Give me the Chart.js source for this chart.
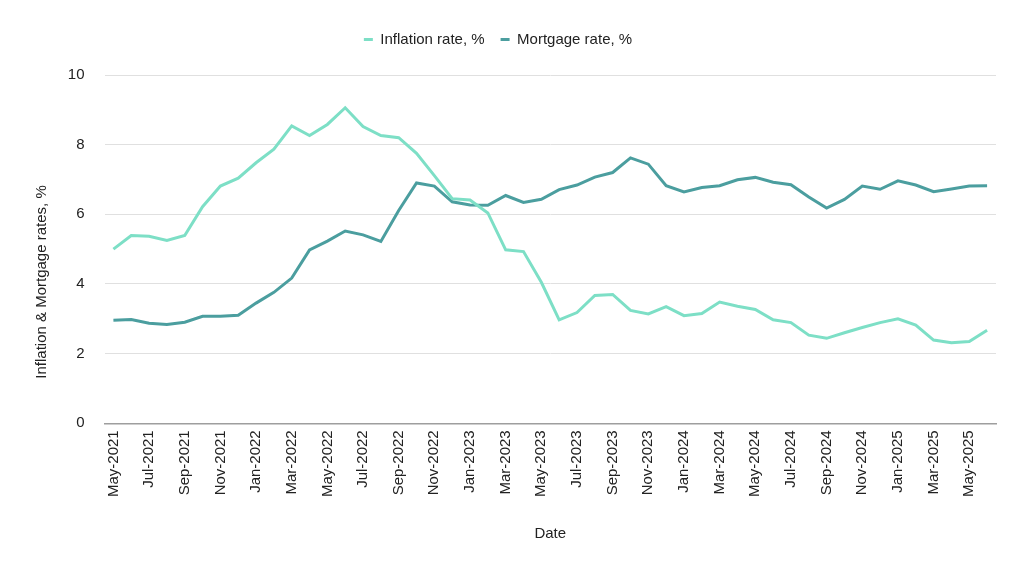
<!DOCTYPE html>
<html>
<head>
<meta charset="utf-8">
<script src="https://cdn.jsdelivr.net/npm/chart.js@4"></script>
<style>
  html, body { margin: 0; padding: 0; background: #fff; }
  #wrap { width: 1024px; height: 571px; }
</style>
</head>
<body>
<div id="wrap"><canvas id="myChart"></canvas></div>
<script>
const months = [
    'May-2021','Jun-2021','Jul-2021','Aug-2021','Sep-2021','Oct-2021','Nov-2021','Dec-2021',
    'Jan-2022','Feb-2022','Mar-2022','Apr-2022','May-2022','Jun-2022','Jul-2022','Aug-2022','Sep-2022','Oct-2022','Nov-2022','Dec-2022',
    'Jan-2023','Feb-2023','Mar-2023','Apr-2023','May-2023','Jun-2023','Jul-2023','Aug-2023','Sep-2023','Oct-2023','Nov-2023','Dec-2023',
    'Jan-2024','Feb-2024','Mar-2024','Apr-2024','May-2024','Jun-2024','Jul-2024','Aug-2024','Sep-2024','Oct-2024','Nov-2024','Dec-2024',
    'Jan-2025','Feb-2025','Mar-2025','Apr-2025','May-2025','Jun-2025'
];
const inflationRate = [
    5.00, 5.39, 5.37, 5.25, 5.39, 6.22, 6.81, 7.04,
    7.48, 7.87, 8.54, 8.26, 8.58, 9.06, 8.52, 8.26, 8.20, 7.75, 7.11, 6.45,
    6.41, 6.04, 4.98, 4.93, 4.05, 2.97, 3.18, 3.67, 3.70, 3.24, 3.14, 3.35,
    3.09, 3.15, 3.48, 3.36, 3.27, 2.97, 2.89, 2.53, 2.44, 2.60, 2.75, 2.89,
    3.00, 2.82, 2.39, 2.31, 2.35, 2.67
];
const mortgageRate = [
    2.96, 2.98, 2.87, 2.84, 2.90, 3.07, 3.07, 3.10,
    3.45, 3.76, 4.17, 4.98, 5.23, 5.52, 5.41, 5.22, 6.11, 6.90, 6.81, 6.36,
    6.27, 6.26, 6.54, 6.34, 6.43, 6.71, 6.84, 7.07, 7.20, 7.62, 7.44, 6.82,
    6.64, 6.77, 6.82, 6.99, 7.06, 6.92, 6.85, 6.50, 6.18, 6.43, 6.81, 6.72,
    6.96, 6.84, 6.65, 6.73, 6.81, 6.82
];
const yTicks = [0, 2, 4, 6, 8, 10];

const ctx = document.getElementById('myChart');
Chart.defaults.font.family = '"Liberation Sans", Arial, sans-serif';
Chart.defaults.font.size = 15;
Chart.defaults.color = '#222';

// y axis title sits lower than the axis middle in the original, so draw it by hand
const yTitle = {
    id: 'yTitle',
    afterDraw(chart) {
        const c = chart.ctx;
        c.save();
        c.translate(42, 282);
        c.rotate(-Math.PI / 2);
        c.font = '15px "Liberation Sans", Arial, sans-serif';
        c.fillStyle = '#222';
        c.textAlign = 'center';
        c.textBaseline = 'middle';
        c.fillText('Inflation & Mortgage rates, %', 0, 0);
        c.restore();
    }
};

// extra room between legend and plot
const legendGap = {
    id: 'legendGap',
    beforeInit(chart) {
        const fit = chart.legend.fit;
        chart.legend.fit = function() {
            fit.bind(chart.legend)();
            this.height += 18;
        };
    }
};

var myChart = new Chart(ctx, {
    type: 'line',
    data: {
        labels: months,
        datasets: [
            {
                label: 'Inflation rate, %',
                data: inflationRate,
                borderColor: '#7ddfc6',
                backgroundColor: '#7ddfc6',
                borderWidth: 3,
                pointRadius: 0,
                tension: 0
            },
            {
                label: 'Mortgage rate, %',
                data: mortgageRate,
                borderColor: '#4b9e9f',
                backgroundColor: '#4b9e9f',
                borderWidth: 3,
                pointRadius: 0,
                tension: 0
            }
        ]
    },
    options: {
        responsive: true,
        maintainAspectRatio: false,
        animation: false,
        layout: {
            padding: { top: 16, right: 28, bottom: 28, left: 0 }
        },
        plugins: {
            legend: {
                position: 'top',
                labels: {
                    boxWidth: 9,
                    boxHeight: 3,
                    padding: 16,
                    color: '#222',
                    generateLabels(chart) {
                        const items = Chart.defaults.plugins.legend.labels.generateLabels(chart);
                        items.forEach(it => { it.lineWidth = 0; });
                        return items;
                    }
                }
            },
            tooltip: { enabled: false }
        },
        scales: {
            x: {
                offset: true,
                grid: { display: false, drawTicks: false },
                border: { display: true, color: '#9e9e9e', width: 1.5 },
                ticks: {
                    autoSkip: false,
                    maxRotation: 90,
                    minRotation: 90,
                    padding: 7,
                    color: '#222',
                    callback: function(val, idx) {
                        return idx % 2 === 0 ? this.getLabelForValue(val) : '';
                    }
                },
                title: {
                    display: true,
                    text: 'Date',
                    color: '#222',
                    padding: { top: 21, bottom: 0 }
                }
            },
            y: {
                min: 0,
                max: 10,
                afterFit: s => { s.width = 104.5; },
                afterBuildTicks: s => { s.ticks = yTicks.map(v => ({ value: v })); },
                grid: {
                    drawTicks: false,
                    color: c => c.tick && c.tick.value === 0 ? '#9e9e9e' : '#e0e0e0'
                },
                border: { display: false },
                ticks: { padding: 20, color: '#222' }
            }
        }
    },
    plugins: [yTitle, legendGap]
});
</script>
</body>
</html>
